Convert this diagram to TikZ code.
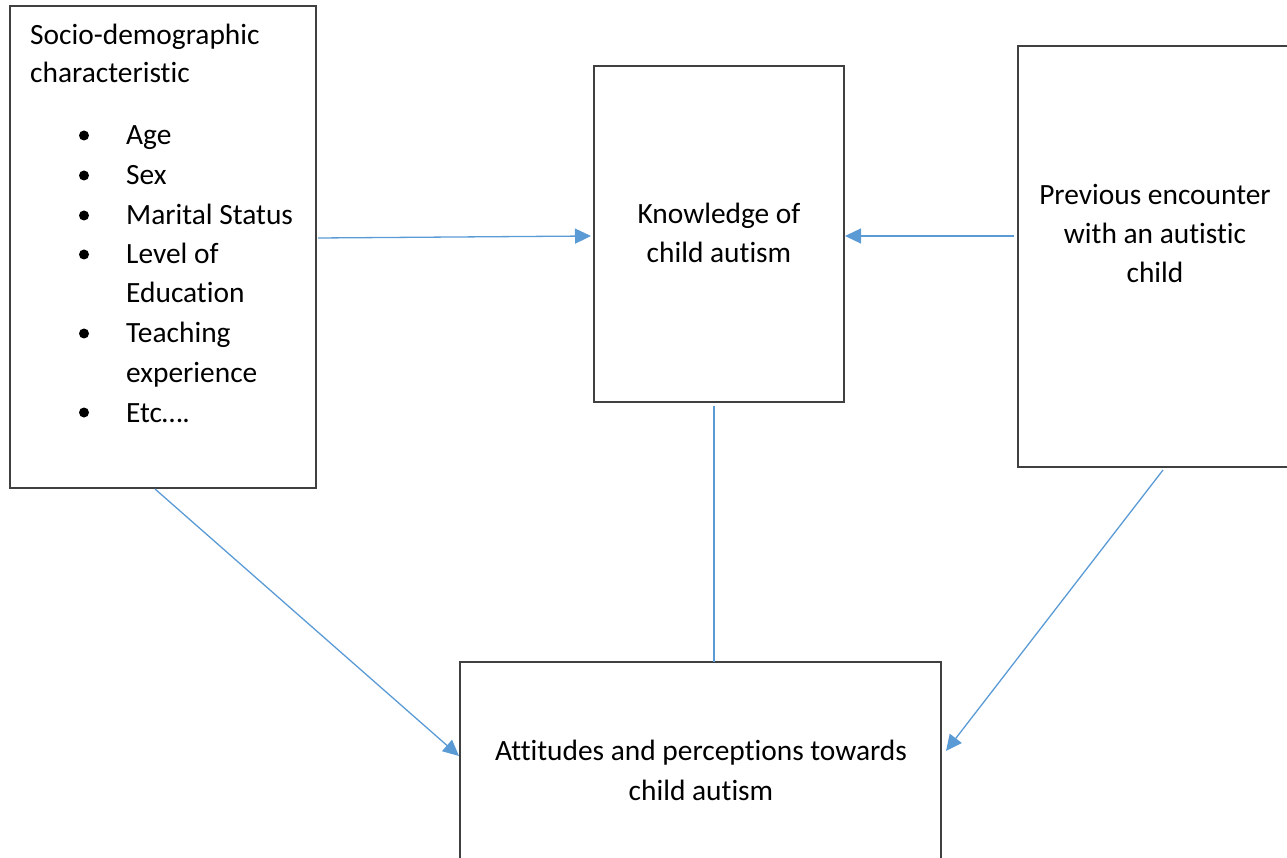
\documentclass[tikz,border=0pt]{standalone}
\usepackage{fontspec}
\setmainfont{Carlito}[Ligatures=NoCommon]
\usetikzlibrary{arrows.meta}
\definecolor{boxline}{HTML}{404040}
\definecolor{arrowblue}{HTML}{5B9BD5}
\tikzset{
  box/.style={draw=boxline, line width=1.4pt},
  txt/.style={font=\fontsize{29.4}{39}\selectfont, inner sep=0pt, anchor=base},
  ltxt/.style={txt, anchor=base west},
  conn/.style={draw=arrowblue, line width=1.3pt},
  arr/.style={conn, -{Triangle[length=16pt,width=15pt]}},
  bul/.style={circle, fill=black, inner sep=0pt, minimum size=10pt}
}
\begin{document}
\begin{tikzpicture}[x=1pt,y=-1pt]
\useasboundingbox (0,0) rectangle (1287,858);
\begin{scope}
\clip (0,0) rectangle (1287,858);
% boxes
\draw[box] (10,6) rectangle (316,488);
\draw[box] (594,66) rectangle (844,402);
\draw[box] (1018,46) rectangle (1300,467);
\draw[box] (460,662) rectangle (941,880);
\end{scope}
% left box text
\node[ltxt] (t1) at (30,45) {Socio-demographic};
\node[ltxt] (t2) at (30,83) {characteristic};
\foreach \y [count=\i] in {145,185,225,264,343,422}{
  \node[bul] (b\i) at (84,\y-9.5) {};
}
\node[ltxt] (l1) at (126,145) {Age};
\node[ltxt] (l2) at (126,185) {Sex};
\node[ltxt] (l3) at (126,225) {Marital Status};
\node[ltxt] (l4) at (126,264) {Level of};
\node[ltxt] (l5) at (126,303) {Education};
\node[ltxt] (l6) at (126,343) {Teaching};
\node[ltxt] (l7) at (126,382) {experience};
\node[ltxt] (l8) at (126,422) {Etc….};
% middle text
\node[txt] (k1) at (719,224) {Knowledge of};
\node[txt] (k2) at (719,263) {child autism};
% right text
\node[txt] (p1) at (1155,205) {Previous encounter};
\node[txt] (p2) at (1155,244) {with an autistic};
\node[txt] (p3) at (1155,283) {child};
% bottom text
\node[txt] (a1) at (701,760) {Attitudes and perceptions towards};
\node[txt] (a2) at (701,800) {child autism};
% connector anchors
\coordinate (s1) at (318,238);
\coordinate (e1) at (591,236);
\coordinate (s2) at (1014,236);
\coordinate (e2) at (845,236);
\coordinate (s3) at (714,406);
\coordinate (e3) at (714,662);
\coordinate (s4) at (155,489);
\coordinate (e4) at (459,756);
\coordinate (s5) at (1163,470);
\coordinate (e5) at (946,751);
\draw[arr] (s1) -- (e1);
\draw[arr] (s2) -- (e2);
\draw[conn] (s3) -- (e3);
\draw[arr] (s4) -- (e4);
\draw[arr] (s5) -- (e5);
\end{tikzpicture}
\end{document}
